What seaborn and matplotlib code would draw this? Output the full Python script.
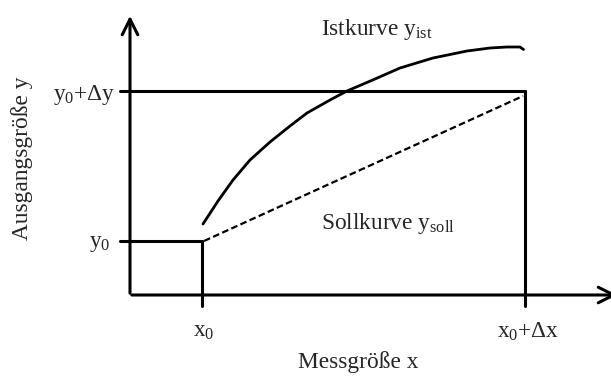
import matplotlib
matplotlib.use("Agg")
import matplotlib.pyplot as plt
import seaborn as sns
import pandas as pd

# Kennwerte (Datenkoordinaten, Ursprung = Achsenkreuz)
x0, x1 = 7.2, 39.5          # x0, x0+dx
y0, y1 = 5.4, 20.4          # y0, y0+dy

# Istkurve
ist_x = [7.3, 8.8, 10.3, 12.0, 14.0, 16.0, 17.7, 20.0, 21.7, 24.5, 27.0, 30.3,
         33.7, 36.0, 37.7, 39.0, 39.35]
ist_y = [7.1, 9.4, 11.5, 13.5, 15.3, 16.9, 18.2, 19.5, 20.4, 21.6, 22.7, 23.7,
         24.4, 24.7, 24.8, 24.8, 24.55]

# Sollkurve (Gerade)
soll_x = [7.4, 39.3]
soll_y = [5.4, 19.9]

sns.set_style("white")
plt.rcParams['font.family'] = ['Liberation Serif', 'DejaVu Serif']
plt.rcParams['mathtext.fontset'] = 'custom'
plt.rcParams['mathtext.rm'] = 'Liberation Serif'
plt.rcParams['mathtext.it'] = 'Liberation Serif:italic'

fig = plt.figure(figsize=(6.11, 3.76), dpi=100)
ax = fig.add_axes([0, 0, 1, 1])
ax.set_xlim(-13, 48.1)
ax.set_ylim(-8.1, 29.5)
ax.axis('off')

df_ist = pd.DataFrame({'x': ist_x, 'y': ist_y})
df_soll = pd.DataFrame({'x': soll_x, 'y': soll_y})
sns.lineplot(data=df_ist, x='x', y='y', ax=ax, color='black', lw=2.0, sort=False)
sns.lineplot(data=df_soll, x='x', y='y', ax=ax, color='black', lw=1.6,
             linestyle=(0, (3, 1.5)), sort=False)

# Achsen mit Pfeilen
ax.annotate('', xy=(0, 28.2), xytext=(0, -0.1), annotation_clip=False,
            arrowprops=dict(arrowstyle='->', lw=2.2, mutation_scale=28, color='black'))
ax.annotate('', xy=(49.0, 0), xytext=(-0.1, 0), annotation_clip=False,
            arrowprops=dict(arrowstyle='->', lw=2.2, mutation_scale=28, color='black'))

# Rechteck / Hilfslinien
lw = 2.2
ax.plot([-1.0, x1], [y1, y1], color='black', lw=lw)
ax.plot([x1, x1], [y1, -1.1], color='black', lw=lw)
ax.plot([-1.0, x0], [y0, y0], color='black', lw=lw)
ax.plot([x0, x0], [y0, -1.1], color='black', lw=lw)

fs = 16.8
ax.text(-1.5, y1 - 0.4, r'$\mathregular{y_0{+}\Delta y}$', ha='right', va='center', fontsize=fs)
ax.text(-2.0, y0 - 0.2, r'$\mathregular{y_0}$', ha='right', va='center', fontsize=fs)
ax.text(x0 + 0.2, -3.7, r'$\mathregular{x_0}$', ha='center', va='center', fontsize=fs)
ax.text(x1 + 0.3, -3.7, r'$\mathregular{x_0{+}\Delta x}$', ha='center', va='center', fontsize=fs)
ax.text(22.8, -6.7, 'Messgröße x', ha='center', va='center', fontsize=fs)
ax.text(-10.8, 13.7, 'Ausgangsgröße y', ha='center', va='center', fontsize=fs, rotation=90)
ax.text(19.1, 26.6, r'Istkurve $\mathregular{y_{ist}}$', ha='left', va='center', fontsize=fs)
ax.text(19.1, 7.1, r'Sollkurve $\mathregular{y_{soll}}$', ha='left', va='center', fontsize=fs)

fig.savefig('out.png', dpi=100)
